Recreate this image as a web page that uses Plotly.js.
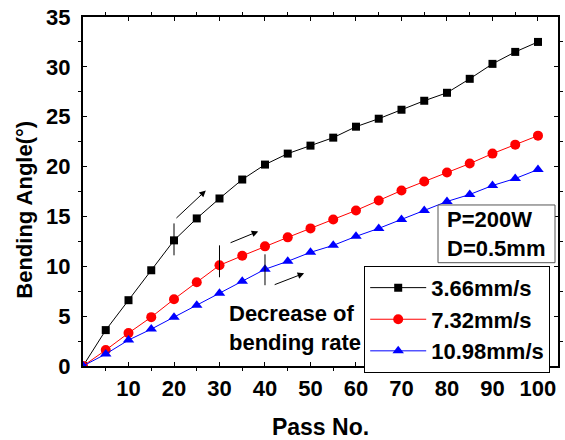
<!DOCTYPE html>
<html>
<head>
<meta charset="utf-8">
<script src="https://cdn.plot.ly/plotly-3.0.1.min.js"></script>
<style>html,body{margin:0;padding:0;background:#fff;}#chart{width:565px;height:440px;}</style>
</head>
<body>
<div id="chart"></div>
<script>
const passNo = [0,5,10,15,20,25,30,35,40,45,50,55,60,65,70,75,80,85,90,95,100];
const angle366 = [0,3.6,6.6,9.6,12.6,14.8,16.8,18.7,20.2,21.3,22.1,22.9,24.0,24.8,25.7,26.6,27.4,28.8,30.3,31.5,32.5];
const angle732 = [0,1.6,3.3,4.9,6.7,8.4,10.1,11.05,12.0,12.9,13.8,14.7,15.6,16.6,17.6,18.5,19.4,20.3,21.3,22.2,23.1];
const angle1098 = [0,1.2,2.6,3.7,4.9,6.1,7.3,8.5,9.7,10.5,11.4,12.1,13.0,13.8,14.7,15.6,16.5,17.2,18.1,18.8,19.7];
const seriesNames = ['3.66mm/s','7.32mm/s','10.98mm/s'];
const xTicks = [10,20,30,40,50,60,70,80,90,100];
const yTicks = [0,5,10,15,20,25,30,35];
const xTitle = 'Pass No.';
const yTitle = 'Bending Angle(°)';
// marker lines for change of rate: x, y0, y1
const markX = [20,30,40];
const markY0 = [11.1,8.9,8.1];
const markY1 = [14.3,12.1,11.2];
// arrows: tail (ax, ay) -> head (x, y)
const arrTailX = [20.2,32.1,41.8];
const arrTailY = [14.7,12.3,8.1];
const arrHeadX = [27.0,38.5,48.6];
const arrHeadY = [17.6,13.5,9.3];
const noteText = 'Decrease of<br>bending rate';
const boxText = 'P=200W<br>D=0.5mm';

const FONT = 'Liberation Sans, Arial, sans-serif';
const colors = ['#000000','#ff0000','#0000ff'];
const symbols = ['square','circle','triangle-up'];
const sizes = [8,10,10];
const ys = [angle366, angle732, angle1098];

const traces = ys.map((y,i)=>({
  x: passNo, y: y, name: seriesNames[i], type: 'scatter', mode: 'lines+markers',
  line: {color: colors[i], width: 1},
  marker: {symbol: symbols[i], size: sizes[i], color: colors[i]}
}));

const shapes = markX.map((x,i)=>({
  type:'line', xref:'x', yref:'y', x0:x, x1:x, y0:markY0[i], y1:markY1[i],
  line:{color:'#000', width:1}
}));
// parameter box frame
shapes.push({
  type:'rect', xref:'paper', yref:'paper', x0:0.7474, x1:0.9937, y0:0.296, y1:0.4614,
  fillcolor:'#fff', line:{color:'#555', width:1}, layer:'above'
});

const annotations = arrTailX.map((ax,i)=>({
  xref:'x', yref:'y', axref:'x', ayref:'y',
  x: arrHeadX[i], y: arrHeadY[i], ax: ax, ay: arrTailY[i],
  text:'', showarrow:true, arrowhead:2, arrowsize:1.3, arrowwidth:1, arrowcolor:'#000'
}));
annotations.push({
  xref:'paper', yref:'paper', x:0.304, y:0.108, xanchor:'left', yanchor:'middle',
  text: noteText, showarrow:false, align:'left',
  font:{family:FONT, size:22, color:'#000', weight:700}
});
annotations.push({
  xref:'paper', yref:'paper', x:0.762, y:0.379, xanchor:'left', yanchor:'middle',
  text: boxText, showarrow:false, align:'left',
  font:{family:FONT, size:22, color:'#000', weight:700}
});
annotations.push({
  xref:'paper', yref:'paper', x:-0.122, y:0.448, xanchor:'center', yanchor:'middle',
  text: yTitle, showarrow:false, textangle:-90,
  font:{family:FONT, size:22, color:'#000', weight:700}
});

const layout = {
  width:565, height:440,
  margin:{l:83, r:7, t:17, b:74},
  paper_bgcolor:'#fff', plot_bgcolor:'#fff',
  font:{family:FONT, color:'#000'},
  showlegend:true,
  legend:{
    x:0.592, y:0.287, xanchor:'left', yanchor:'top',
    bgcolor:'#fff', bordercolor:'#000', borderwidth:1,
    font:{family:FONT, size:22, color:'#000', weight:700},
    tracegroupgap:0, itemwidth:56
  },
  xaxis:{
    range:[0,104.4], tickvals:xTicks, ticktext:xTicks.map(String),
    ticks:'inside', ticklen:4, tickwidth:1, tickcolor:'#000',
    minor:{tickvals:[5,15,25,35,45,55,65,75,85,95], ticks:'outside', ticklen:3, tickcolor:'#000'},
    showline:true, linecolor:'#000', linewidth:2, mirror:'ticks',
    showgrid:false, zeroline:false,
    tickfont:{family:FONT, size:22, color:'#000', weight:700},
    ticklabelstandoff:2,
    title:{text:xTitle, font:{family:FONT, size:23, color:'#000', weight:700}, standoff:18}
  },
  yaxis:{
    range:[0,35], tickvals:yTicks, ticktext:yTicks.map(String),
    ticks:'inside', ticklen:4, tickwidth:1, tickcolor:'#000',
    minor:{tickvals:[2.5,7.5,12.5,17.5,22.5,27.5,32.5], ticks:'outside', ticklen:3, tickcolor:'#000'},
    showline:true, linecolor:'#000', linewidth:2, mirror:'ticks',
    showgrid:false, zeroline:false,
    tickfont:{family:FONT, size:22, color:'#000', weight:700},
    ticklabelstandoff:6
  },
  shapes: shapes,
  annotations: annotations
};

Plotly.newPlot('chart', traces, layout, {displayModeBar:false, staticPlot:true});
</script>
</body>
</html>
